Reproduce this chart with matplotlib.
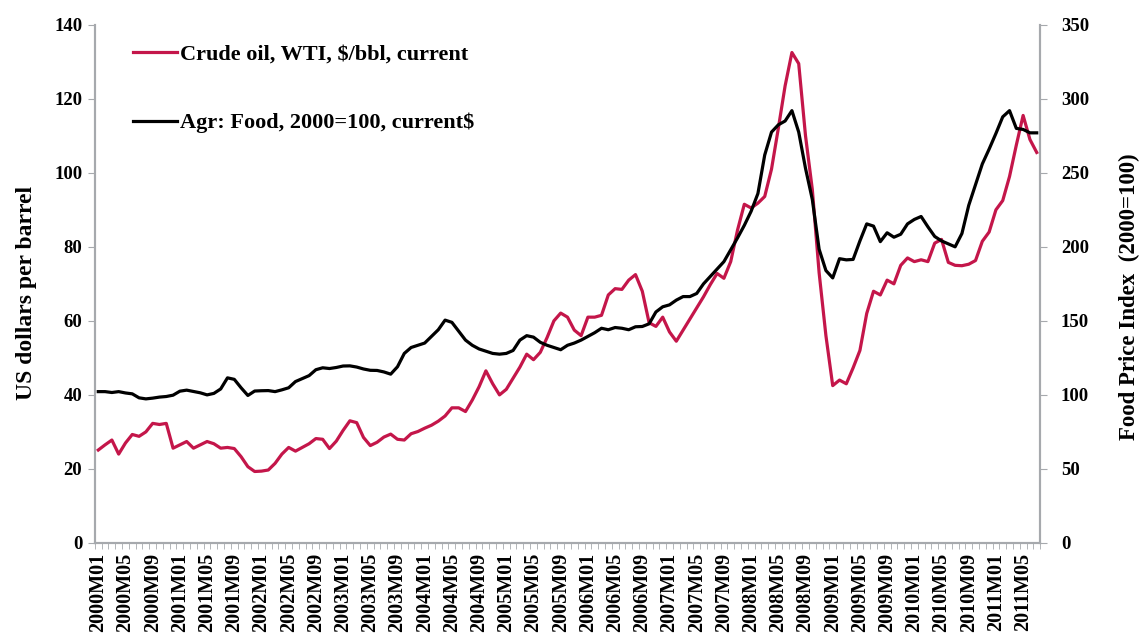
import numpy as np
import matplotlib
matplotlib.use('Agg')
import matplotlib.pyplot as plt
from matplotlib.ticker import FixedLocator, MultipleLocator

plt.rcParams['font.family'] = ['Liberation Serif', 'DejaVu Serif']
plt.rcParams['font.weight'] = 'bold'

# monthly values 2000M01 .. 2011M07
oil = [25.1, 26.5, 27.8, 24.0, 27.0, 29.3, 28.8, 30.0, 32.3, 32.0, 32.3, 25.6,
       26.5, 27.4, 25.6, 26.5, 27.4, 26.8, 25.6, 25.8, 25.5, 23.3, 20.6, 19.3,
       19.4, 19.7, 21.5, 24.0, 25.8, 24.8, 25.8, 26.8, 28.2, 28.0, 25.5, 27.5,
       30.4, 33.0, 32.5, 28.5, 26.3, 27.2, 28.6, 29.4, 28.0, 27.8, 29.5, 30.1,
       31.0, 31.8, 32.9, 34.3, 36.5, 36.5, 35.5, 38.6, 42.2, 46.5, 43.0, 40.0,
       41.5, 44.5, 47.5, 51.0, 49.5, 51.5, 55.5, 60.0, 62.1, 61.0, 57.5, 56.0,
       61.0, 61.0, 61.5, 67.0, 68.7, 68.5, 71.0, 72.5, 68.0, 59.5, 58.5, 61.0,
       57.0, 54.5, 57.5, 60.5, 63.5, 66.5, 69.8, 72.8, 71.5, 76.0, 84.5, 91.5,
       90.5, 91.8, 93.6, 101.0, 112.0, 123.5, 132.5, 129.5, 110.0, 95.5, 73.0, 56.0,
       42.5, 44.0, 43.0, 47.3, 52.0, 62.0, 68.0, 67.0, 71.0, 70.0, 75.0, 77.0,
       76.0, 76.5, 76.0, 81.0, 82.0, 75.8, 75.0, 74.9, 75.3, 76.3, 81.5, 84.0,
       90.0, 92.5, 99.0, 107.5, 115.5, 109.0, 105.5]

food = [102.2, 102.2, 101.6, 102.2, 101.3, 100.7, 98.0, 97.3, 97.8, 98.5, 98.9, 99.8,
        102.5, 103.2, 102.3, 101.4, 100.0, 101.0, 104.0, 111.5, 110.5, 104.8, 99.6, 102.6,
        102.8, 102.9, 102.2, 103.4, 104.8, 109.0, 111.0, 113.0, 117.0, 118.3, 117.8, 118.5,
        119.5, 119.6, 118.8, 117.5, 116.6, 116.5, 115.5, 114.0, 119.0, 128.0, 132.0, 133.5,
        135.0, 139.5, 144.0, 150.5, 149.0, 143.0, 137.0, 133.5, 131.0, 129.5, 128.0, 127.5,
        128.0, 130.0, 137.0, 140.0, 139.0, 135.5, 133.5, 132.0, 130.5, 133.5, 135.0, 137.0,
        139.5, 142.0, 145.0, 144.0, 145.5, 145.0, 144.0, 146.0, 146.2, 148.0, 156.0, 159.5,
        160.8, 164.0, 166.4, 166.4, 168.5, 175.0, 180.0, 185.0, 190.0, 198.0, 206.0, 214.5,
        224.0, 236.0, 262.0, 277.5, 282.4, 285.0, 292.0, 277.5, 253.0, 232.0, 198.4, 184.0,
        179.0, 192.0, 191.2, 191.5, 204.0, 215.5, 214.0, 203.5, 209.5, 206.5, 208.5, 215.5,
        218.5, 220.5, 213.5, 207.0, 204.0, 202.0, 200.0, 209.0, 228.0, 242.0, 256.0, 266.0,
        276.6, 287.8, 292.0, 280.0, 279.3, 277.0, 277.0]

months = ['%dM%02d' % (2000 + k // 12, k % 12 + 1) for k in range(len(oil))]
label_every = 4

red = '#C4164A'
grey = '#A6A9AD'

fig, ax = plt.subplots(figsize=(11.43, 6.35), dpi=100)
fig.subplots_adjust(left=0.083, right=0.91, bottom=0.145, top=0.961)
ax2 = ax.twinx()

x = np.arange(len(oil))
l1, = ax.plot(x, oil, color=red, lw=2.3, label='Crude oil, WTI, $/bbl, current')
l2, = ax2.plot(x, food, color='black', lw=2.3, label='Agr: Food, 2000=100, current$')

ax.set_xlim(-0.5, len(oil) - 0.5)
ax.set_ylim(0, 140)
ax2.set_ylim(0, 350)
ax.yaxis.set_major_locator(MultipleLocator(20))
ax2.yaxis.set_major_locator(MultipleLocator(50))

ax.xaxis.set_major_locator(FixedLocator(x[::label_every]))
ax.set_xticklabels(months[::label_every], rotation=90, fontsize=14.5)
ax.xaxis.set_minor_locator(FixedLocator(np.arange(-0.5, len(oil), 1)))
ax.tick_params(axis='x', which='major', length=0, pad=7)
ax.tick_params(axis='x', which='minor', length=4, color=grey, direction='out')
ax.tick_params(axis='y', length=5, color=grey, labelsize=13.5, pad=4)
ax2.tick_params(axis='y', length=5, color=grey, labelsize=13.5, pad=10)

for a in (ax, ax2):
    a.spines['top'].set_visible(False)
    for s in ('left', 'right', 'bottom'):
        a.spines[s].set_color(grey)
        a.spines[s].set_linewidth(1.5)

ax.set_ylabel('US dollars per barrel', fontsize=17, fontweight='bold')
ax.yaxis.set_label_coords(-0.061, 0.483)
ax2.set_ylabel('Food Price Index  (2000=100)', fontsize=16.5, fontweight='bold')
ax2.yaxis.set_label_coords(1.083, 0.475)

ax2.legend([l1, l2], [l1.get_label(), l2.get_label()], loc='upper left',
           bbox_to_anchor=(0.04, 0.962), frameon=False,
           prop={'weight': 'bold', 'size': 16}, handlelength=2.0,
           handletextpad=0.15, labelspacing=2.15, borderaxespad=0, borderpad=0)

plt.savefig('out.png', dpi=100)
